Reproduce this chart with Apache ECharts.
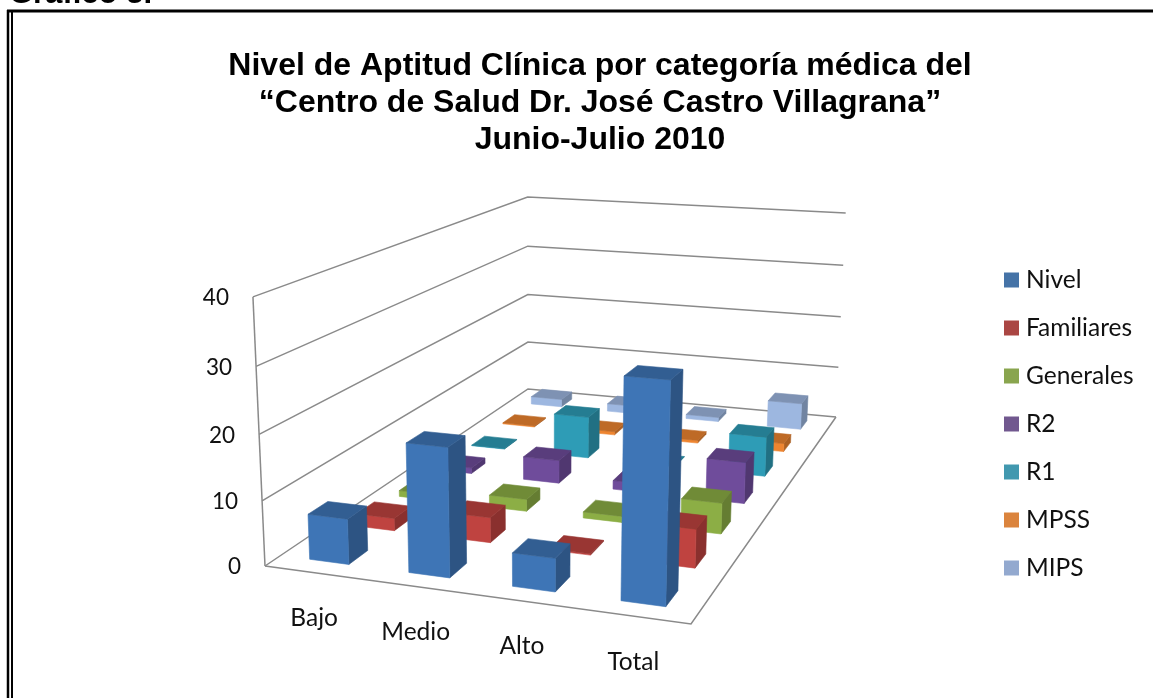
<!DOCTYPE html>
<html>
<head>
<meta charset="utf-8">
<style>html,body{margin:0;padding:0;background:#fff}#c{width:1153px;height:698px}</style>
<script src="https://cdn.jsdelivr.net/npm/echarts@6/dist/echarts.min.js"></script>
</head>
<body>
<div id="c"></div>
<script>
const categories = ['Bajo', 'Medio', 'Alto', 'Total'];
const zTicks = [0, 10, 20, 30, 40];
const Nivel = [7, 19.5, 5, 32];
const Familiares = [2, 4, 0.2, 6];
const Generales = [1, 2, 1, 5];
const R2 = [1, 4, 1.5, 7];
const R1 = [0.1, 7.5, 0.1, 7];
const MPSS = [0.2, 0.6, 0.5, 1.5];
const MIPS = [1.5, 1.5, 0.8, 5];
const seriesNames = ['Nivel', 'Familiares', 'Generales', 'R2', 'R1', 'MPSS', 'MIPS'];
const seriesValues = [Nivel, Familiares, Generales, R2, R1, MPSS, MIPS];
const legendColors = ['#4573A7', '#AA4643', '#89A54E', '#71588F', '#4198AF', '#DB843D', '#93A9CF'];
const faceColors = ['#3E75B6', '#BF4340', '#8CAE45', '#6F4C9B', '#2E9CB6', '#EE8530', '#9DB7E0'];
const titleText = 'Nivel de Aptitud Clínica por categoría médica del\n“Centro de Salud Dr. José Castro Villagrana”\nJunio-Julio 2010';

// 3D projection calibrated to the reference's box corners
const floorQuad = [[265, 566], [691, 624], [836, 417], [528, 389]];
const topPts = [[0, 0, 253.5, 297], [0, 1, 527, 197], [1, 1, 846, 213]];
const zMax = 40, nCat = categories.length, nRow = seriesNames.length;
const H = (function () {
  const [p0, p1, p2, p3] = floorQuad;
  const dx1 = p1[0] - p2[0], dx2 = p3[0] - p2[0], sx = p0[0] - p1[0] + p2[0] - p3[0];
  const dy1 = p1[1] - p2[1], dy2 = p3[1] - p2[1], sy = p0[1] - p1[1] + p2[1] - p3[1];
  const den = dx1 * dy2 - dx2 * dy1;
  const g = (sx * dy2 - dx2 * sy) / den, h = (dx1 * sy - sx * dy1) / den;
  return [p1[0] - p0[0] + g * p1[0], p3[0] - p0[0] + h * p3[0], p0[0],
          p1[1] - p0[1] + g * p1[1], p3[1] - p0[1] + h * p3[1], p0[1], g, h, 1];
})();
function floorH(u, v) {
  return [H[0] * u + H[1] * v + H[2], H[3] * u + H[4] * v + H[5], H[6] * u + H[7] * v + H[8]];
}
const Pz = (function () {
  // least-squares for the homogeneous z column
  const A = [], b = [];
  topPts.forEach(function (t) {
    const f = floorH(t[0], t[1]);
    A.push([1, 0, -t[2]]); b.push(t[2] * f[2] - f[0]);
    A.push([0, 1, -t[3]]); b.push(t[3] * f[2] - f[1]);
  });
  const M = [[0, 0, 0, 0], [0, 0, 0, 0], [0, 0, 0, 0]];
  A.forEach(function (r, k) {
    for (let i = 0; i < 3; i++) {
      for (let j = 0; j < 3; j++) M[i][j] += r[i] * r[j];
      M[i][3] += r[i] * b[k];
    }
  });
  for (let i = 0; i < 3; i++) {
    let p = i;
    for (let r = i + 1; r < 3; r++) if (Math.abs(M[r][i]) > Math.abs(M[p][i])) p = r;
    const t = M[i]; M[i] = M[p]; M[p] = t;
    for (let r = 0; r < 3; r++) {
      if (r === i) continue;
      const m = M[r][i] / M[i][i];
      for (let c = i; c < 4; c++) M[r][c] -= m * M[i][c];
    }
  }
  return [M[0][3] / M[0][0], M[1][3] / M[1][1], M[2][3] / M[2][2]];
})();
function project(u, v, val) {
  const f = floorH(u, v), t = val / zMax;
  const w = f[2] + Pz[2] * t;
  return [(f[0] + Pz[0] * t) / w, (f[1] + Pz[1] * t) / w];
}
function shade(hex, k) {
  const n = parseInt(hex.slice(1), 16);
  const c = [(n >> 16) & 255, (n >> 8) & 255, n & 255].map(function (x) { return Math.round(x * k); });
  return 'rgb(' + c.join(',') + ')';
}
const lineStyle = { stroke: '#8a8a8a', lineWidth: 1.5, fill: null };
const tickFont = '22.5px Lato, "Open Sans", sans-serif';
const labelFont = '24.5px Lato, "Open Sans", sans-serif';
const barHalf = 0.2;

function renderWall(params, api) {
  const z = api.value(0);
  const a = project(0, 0, z), b = project(0, 1, z), c = project(1, 1, z);
  const kids = [
    { type: 'polyline', shape: { points: [a, b, c] }, style: lineStyle },
    { type: 'text', style: { text: String(z), x: a[0] - 24, y: a[1] + 1, align: 'right', verticalAlign: 'middle', font: tickFont, fill: '#111' } }
  ];
  if (z === 0) {
    kids.push({ type: 'polyline', shape: { points: [a, project(1, 0, 0), c] }, style: lineStyle });
    kids.push({ type: 'polyline', shape: { points: [a, project(0, 0, zMax)] }, style: lineStyle });
  }
  return { type: 'group', children: kids };
}
function renderCat(params, api) {
  const i = api.value(0);
  const p = project((i + 0.5) / nCat, 0, 0);
  return { type: 'text', style: { text: categories[i], x: p[0], y: p[1] + 45.5, align: 'center', verticalAlign: 'middle', font: labelFont, fill: '#111' } };
}
function barRenderer(row) {
  return function (params, api) {
    const i = api.value(0), val = api.value(1);
    const u0 = (i + 0.5 - barHalf) / nCat, u1 = (i + 0.5 + barHalf) / nCat;
    const v0 = (row + 0.5 - barHalf) / nRow, v1 = (row + 0.5 + barHalf) / nRow;
    const base = faceColors[row];
    const f = [project(u0, v0, 0), project(u1, v0, 0), project(u1, v0, val), project(u0, v0, val)];
    const s = [project(u1, v0, 0), project(u1, v1, 0), project(u1, v1, val), project(u1, v0, val)];
    const t = [project(u0, v0, val), project(u1, v0, val), project(u1, v1, val), project(u0, v1, val)];
    function poly(pts, fill) {
      return { type: 'polygon', shape: { points: pts }, style: { fill: fill, stroke: fill, lineWidth: 0.6 } };
    }
    return { type: 'group', children: [poly(s, shade(base, 0.72)), poly(f, base), poly(t, shade(base, 0.8))] };
  };
}
// back rows are painted first, left to right within each row
const barSeries = seriesNames.map(function (name, row) {
  return {
    type: 'custom', name: name, coordinateSystem: 'none', silent: true,
    renderItem: barRenderer(row),
    itemStyle: { color: legendColors[row] },
    data: seriesValues[row].map(function (v, i) { return [i, v]; })
  };
}).reverse();

const chart = echarts.init(document.getElementById('c'), null, { renderer: 'canvas' });
chart.setOption({
  animation: false,
  backgroundColor: '#fff',
  title: {
    text: titleText, left: 600, top: 48, textAlign: 'center', padding: 0,
    textStyle: { fontFamily: '"Liberation Sans", Arial, sans-serif', fontWeight: 'bold', fontSize: 32, lineHeight: 37, color: '#000' }
  },
  legend: {
    orient: 'vertical', left: 1004, top: 267, padding: 0, itemWidth: 15, itemHeight: 15, itemGap: 22,
    icon: 'rect', selectedMode: false, data: seriesNames,
    textStyle: { fontFamily: 'Lato, "Open Sans", sans-serif', fontSize: 24.5, color: '#111', padding: [0, 0, 0, 2], lineHeight: 26 }
  },
  graphic: [
    { type: 'text', style: { text: 'Gráfico 3.', x: 9, y: 10, verticalAlign: 'bottom', font: 'bold 31px "Liberation Sans", Arial, sans-serif', fill: '#000' } },
    { type: 'line', shape: { x1: 7, y1: 11, x2: 1153, y2: 11 }, style: { stroke: '#000', lineWidth: 3 } },
    { type: 'line', shape: { x1: 8, y1: 10, x2: 8, y2: 698 }, style: { stroke: '#000', lineWidth: 2.5 } },
    { type: 'line', shape: { x1: 12, y1: 10, x2: 12, y2: 698 }, style: { stroke: '#000', lineWidth: 2 } }
  ],
  series: [
    { type: 'custom', name: 'paredes', coordinateSystem: 'none', silent: true, renderItem: renderWall, data: zTicks.map(function (z) { return [z]; }) },
    { type: 'custom', name: 'categorias', coordinateSystem: 'none', silent: true, renderItem: renderCat, data: categories.map(function (c, i) { return [i]; }) }
  ].concat(barSeries)
});
</script>
</body>
</html>
